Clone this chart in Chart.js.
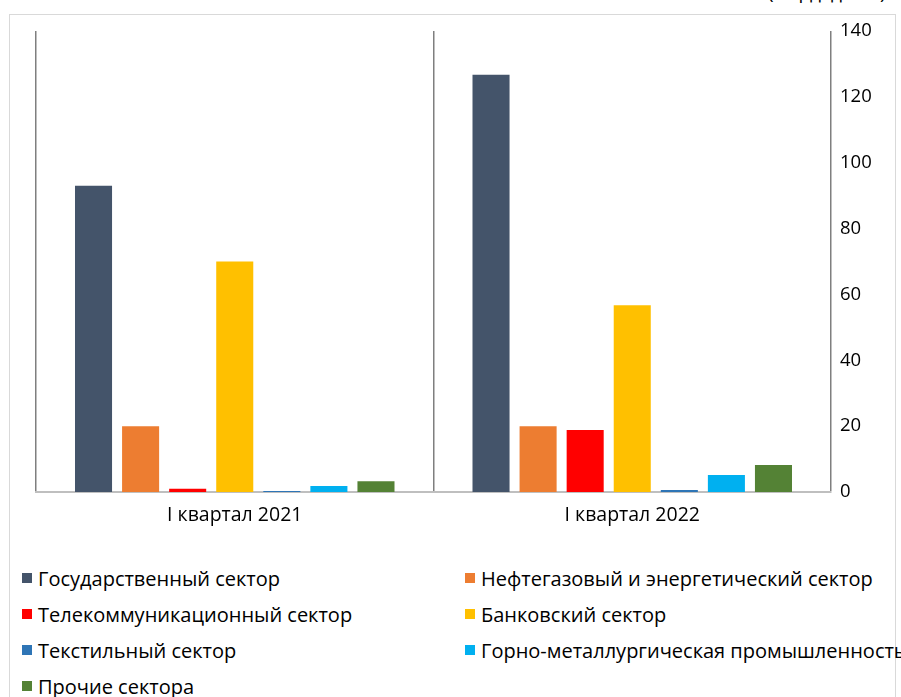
<!DOCTYPE html>
<html>
<head>
<meta charset="utf-8">
<script src="https://cdn.jsdelivr.net/npm/chart.js@4"></script>
<style>
  html, body { margin:0; padding:0; background:#fff; width:901px; height:697px; overflow:hidden; font-family:"Open Sans", Arial, sans-serif; }
  #frame { position:absolute; left:9px; top:14px; width:887px; height:700px; border:1px solid #d9d9d9; box-sizing:border-box; }
  #unit { position:absolute; left:768px; top:-21px; font-size:19px; color:#000; white-space:nowrap; }
  #wrap { position:absolute; left:0; top:0; width:901px; height:545px; }
  #legend { position:absolute; left:22px; top:565px; width:880px; display:grid; grid-template-columns:443px 437px; row-gap:10px; font-size:20px; color:#000; }
  .item { display:flex; align-items:center; height:26px; white-space:nowrap; }
  .box { width:10px; height:10px; margin-right:6px; flex:none; }
</style>
</head>
<body>
<div id="frame"></div>
<div id="unit">(млрд. долл.)</div>
<div id="wrap"><canvas id="c"></canvas></div>
<div id="legend"></div>
<script>
const categories = ["I квартал 2021", "I квартал 2022"];
const seriesNames = [
  "Государственный сектор",
  "Нефтегазовый и энергетический сектор",
  "Телекоммуникационный сектор",
  "Банковский сектор",
  "Текстильный сектор",
  "Горно-металлургическая промышленность",
  "Прочие сектора"
];
const seriesColors = ["#44546A", "#ED7D31", "#FF0000", "#FFC000", "#2E75B6", "#00B0F0", "#548235"];
const govValues     = [93.0, 126.7];
const oilGasValues  = [20.0, 20.0];
const telecomValues = [1.0, 18.8];
const bankValues    = [70.0, 56.7];
const textileValues = [0.3, 0.6];
const miningValues  = [1.8, 5.2];
const otherValues   = [3.3, 8.2];
const yTicks = [0, 20, 40, 60, 80, 100, 120, 140];

const allValues = [govValues, oilGasValues, telecomValues, bankValues, textileValues, miningValues, otherValues];

const datasets = seriesNames.map((name, i) => ({
  label: name,
  data: allValues[i],
  backgroundColor: seriesColors[i],
  borderWidth: 0,
  categoryPercentage: 0.829,
  barPercentage: 0.787
}));

const legend = document.getElementById('legend');
seriesNames.forEach((name, i) => {
  const d = document.createElement('div');
  d.className = 'item';
  d.innerHTML = '<span class="box" style="background:' + seriesColors[i] + '"></span><span>' + name + '</span>';
  legend.appendChild(d);
});

const fam = '"Open Sans", Arial, sans-serif';

new Chart(document.getElementById('c'), {
  type: 'bar',
  data: { labels: categories, datasets: datasets },
  options: {
    responsive: true,
    maintainAspectRatio: false,
    animation: false,
    layout: { padding: { left: 36, right: 10, top: 31, bottom: 0 } },
    plugins: { legend: { display: false }, tooltip: { enabled: false } },
    scales: {
      x: {
        grid: { display: true, offset: true, color: '#7f7f7f', lineWidth: 1.5, drawTicks: false },
        border: { display: true, color: '#bfbfbf', width: 2 },
        ticks: { color: '#000', font: { size: 19.5, family: fam }, padding: 12 },
        afterFit: s => { s.height = 53; }
      },
      y: {
        position: 'right',
        min: 0, max: 140,
        afterBuildTicks: s => { s.ticks = yTicks.map(v => ({ value: v })); },
        grid: { display: false, drawTicks: false },
        border: { display: false },
        ticks: { color: '#000', font: { size: 18.5, family: fam }, padding: 9 },
        afterFit: s => { s.width = 60; }
      }
    }
  }
});
</script>
</body>
</html>
